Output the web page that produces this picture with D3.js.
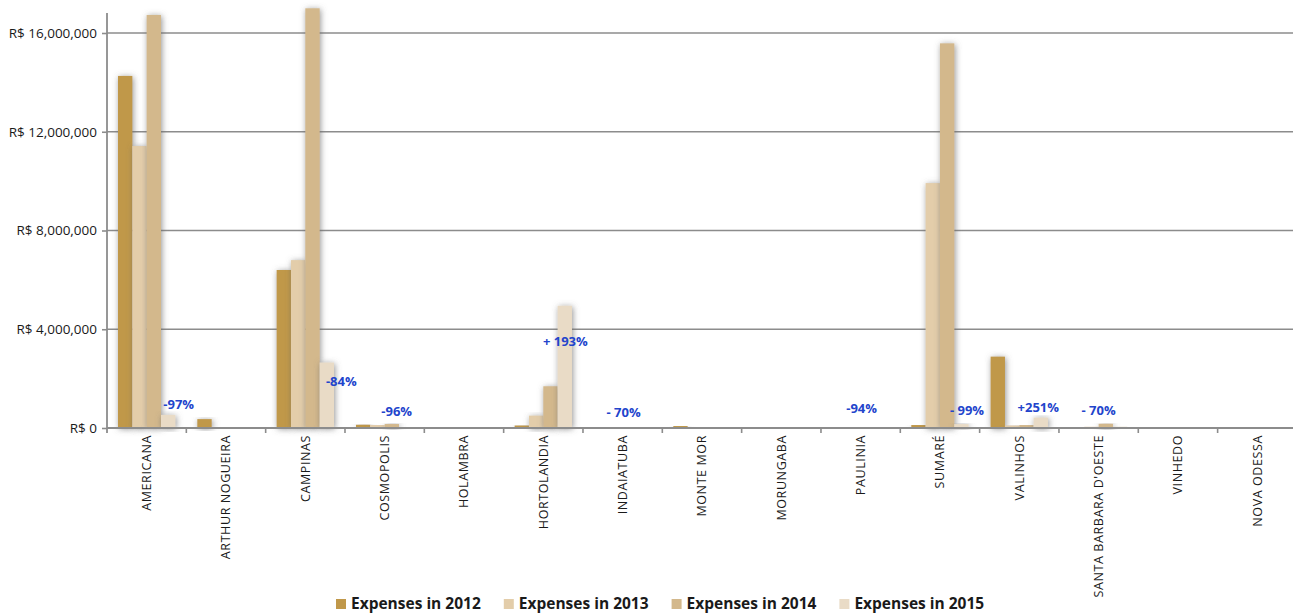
<!DOCTYPE html>
<html>
<head>
<meta charset="utf-8">
<script src="https://cdn.jsdelivr.net/npm/d3@7"></script>
<style>
  html, body { margin: 0; padding: 0; background: #fff; }
  svg { display: block; }
</style>
</head>
<body>
<svg id="chart" width="1293" height="614"></svg>
<script>
// Municipal expenses per city, 2012–2015 (R$)
const categories = ["AMERICANA", "ARTHUR NOGUEIRA", "CAMPINAS", "COSMOPOLIS", "HOLAMBRA",
  "HORTOLANDIA", "INDAIATUBA", "MONTE MOR", "MORUNGABA", "PAULINIA", "SUMARÉ",
  "VALINHOS", "SANTA BARBARA D'OESTE", "VINHEDO", "NOVA ODESSA"];

const seriesNames = ["Expenses in 2012", "Expenses in 2013", "Expenses in 2014", "Expenses in 2015"];

const expenses2012 = [14260000, 360000, 6400000, 130000, 0, 100000, 30000, 80000, 40000, 0, 120000, 2890000, 10000, 15000, 0];
const expenses2013 = [11420000, 30000, 6800000, 120000, 0, 500000, 10000, 10000, 0, 10000, 9920000, 100000, 50000, 15000, 0];
const expenses2014 = [16730000, 0, 17000000, 160000, 0, 1690000, 40000, 0, 0, 40000, 15580000, 120000, 170000, 5000, 5000];
const expenses2015 = [530000, 0, 2650000, 6400, 5000, 4950000, 12000, 0, 0, 2400, 156000, 421000, 51000, 0, 5000];

const yTicks = [0, 4000000, 8000000, 12000000, 16000000];

// Year-over-year change labels (2014 → 2015)
const changeCities = ["AMERICANA", "CAMPINAS", "COSMOPOLIS", "HORTOLANDIA", "INDAIATUBA", "PAULINIA", "SUMARÉ", "VALINHOS", "SANTA BARBARA D'OESTE"];
const changeTexts = ["-97%", "-84%", "-96%", "+ 193%", "- 70%", "-94%", "- 99%", "+251%", "- 70%"];

// ---- layout ----
const colors = ["#C0984A", "#E3CDAA", "#D3B88C", "#E9DBC6"];
const plotLeft = 107, plotTop = 13, baseline = 428, bandWidth = 79.33;
const labelNudge = [[32, -24], [36, -47], [12, -17], [22, -87], [1, -16], [1, -20], [27, -18], [19, -21], [0, -18]];

const svg = d3.select("#chart");
const values = [expenses2012, expenses2013, expenses2014, expenses2015];

const x = d3.scaleBand().domain(categories).range([plotLeft, plotLeft + bandWidth * categories.length]).padding(0);
const xs = d3.scaleBand().domain(seriesNames).range([11, bandWidth - 11]).padding(0);
const y = d3.scaleLinear().domain([0, 16000000]).range([baseline, 33]);

const defs = svg.append("defs");
const f = defs.append("filter").attr("id", "shadow")
  .attr("x", "-80%").attr("y", "-30%").attr("width", "260%").attr("height", "160%");
f.append("feGaussianBlur").attr("in", "SourceAlpha").attr("stdDeviation", 3).attr("result", "b");
f.append("feOffset").attr("in", "b").attr("dx", 1).attr("dy", 1).attr("result", "o");
f.append("feFlood").attr("flood-color", "#666").attr("flood-opacity", 0.7);
f.append("feComposite").attr("in2", "o").attr("operator", "in").attr("result", "s");
const fm = f.append("feMerge");
fm.append("feMergeNode").attr("in", "s");
fm.append("feMergeNode").attr("in", "SourceGraphic");

// gridlines
svg.append("g").selectAll("line").data(yTicks.filter(d => d > 0)).join("line")
  .attr("x1", plotLeft).attr("x2", 1293)
  .attr("y1", d => y(d)).attr("y2", d => y(d))
  .attr("stroke", "#8c8c8c").attr("stroke-width", 1.6);

// y axis
const yAxis = d3.axisLeft(y).tickValues(yTicks).tickSize(5).tickPadding(5)
  .tickFormat(d => "R$ " + d3.format(",")(d));
const gy = svg.append("g").attr("transform", `translate(${plotLeft},0)`).call(yAxis);
gy.select(".domain").remove();
gy.selectAll(".tick line").attr("stroke", "#8c8c8c").attr("stroke-width", 1.6);
gy.selectAll(".tick text").attr("fill", "#1a1a1a")
  .style("font-family", "'Open Sans', sans-serif").style("font-size", "13.5px");
svg.append("line").attr("x1", plotLeft).attr("x2", plotLeft).attr("y1", plotTop).attr("y2", baseline + 5)
  .attr("stroke", "#8c8c8c").attr("stroke-width", 1.8);

// bars
const gBars = svg.append("g");
categories.forEach((c, i) => {
  const g = gBars.append("g").attr("transform", `translate(${x(c)},0)`);
  seriesNames.forEach((s, k) => {
    const v = values[k][i];
    if (v <= 0) return;
    g.append("rect")
      .attr("x", xs(s)).attr("width", xs.bandwidth())
      .attr("y", y(v)).attr("height", baseline - y(v))
      .attr("fill", colors[k]).attr("filter", "url(#shadow)");
  });
});

// x axis
const xAxis = d3.axisBottom(x).tickSize(0).tickFormat("");
const gx = svg.append("g").attr("transform", `translate(0,${baseline})`).call(xAxis);
gx.select(".domain").attr("stroke", "#8c8c8c").attr("stroke-width", 2.2).attr("d", `M${plotLeft},0H1293`);
gx.selectAll(".tick").remove();
svg.append("g").selectAll("line").data(categories.slice(1)).join("line")
  .attr("x1", d => x(d)).attr("x2", d => x(d))
  .attr("y1", baseline).attr("y2", baseline + 5)
  .attr("stroke", "#8c8c8c").attr("stroke-width", 1.6);

// category labels
svg.append("g").selectAll("text").data(categories).join("text")
  .attr("transform", d => `translate(${x(d) + bandWidth / 2 + 4.5},${baseline + 7}) rotate(-90)`)
  .attr("text-anchor", "end")
  .attr("fill", "#1a1a1a")
  .style("font-family", "'Open Sans', sans-serif").style("font-size", "12.5px")
  .style("letter-spacing", "0.6px")
  .text(d => d);

// change labels
svg.append("g").selectAll("text").data(changeCities).join("text")
  .attr("x", (d, i) => x(d) + bandWidth / 2 + labelNudge[i][0])
  .attr("y", (d, i) => baseline + labelNudge[i][1])
  .attr("dy", "0.35em")
  .attr("text-anchor", "middle")
  .attr("fill", "#2244CC")
  .style("font-family", "'Open Sans', sans-serif").style("font-size", "13px").style("font-weight", "bold")
  .text((d, i) => changeTexts[i]);

// legend
const legend = svg.append("g").attr("transform", "translate(336,604)");
let lx = 0;
seriesNames.forEach((s, k) => {
  legend.append("rect").attr("x", lx).attr("y", -5).attr("width", 10).attr("height", 10).attr("fill", colors[k]);
  const t = legend.append("text").attr("x", lx + 15).attr("y", 0).attr("dy", "0.35em")
    .attr("fill", "#1a1a1a")
    .style("font-family", "'Open Sans', sans-serif").style("font-size", "15.5px").style("font-weight", "bold")
    .text(s);
  lx += 15 + t.node().getComputedTextLength() + 23;
});
</script>
</body>
</html>
